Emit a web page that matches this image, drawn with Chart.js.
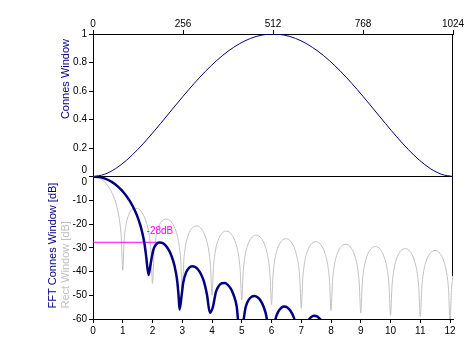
<!DOCTYPE html>
<html><head><meta charset="utf-8">
<script src="https://cdn.jsdelivr.net/npm/chart.js@4.4.1/dist/chart.umd.min.js"></script>
<style>html,body{margin:0;padding:0;background:#fff;}#wrap{width:471px;height:362px;}</style>
</head><body><div id="wrap"><canvas id="c" width="471" height="362"></canvas></div>
<script>
// ---- data ----
const sampleIndex = [0,32,64,96,128,160,192,224,256,288,320,352,384,416,448,480,512,544,576,608,640,672,704,736,768,800,832,864,896,928,960,992,1024];
const connesWindow = [0,0.0147,0.0549,0.1155,0.1914,0.2781,0.3713,0.4673,0.5625,0.6538,0.7385,0.8142,0.8789,0.9309,0.9690,0.9922,1,0.9922,0.9690,0.9309,0.8789,0.8142,0.7385,0.6538,0.5625,0.4673,0.3713,0.2781,0.1914,0.1155,0.0549,0.0147,0];

const rectFreq = [0,0.1,0.2,0.3,0.4,0.5,0.6,0.7,0.8,0.9,0.95,1,
1.05,1.1,1.2,1.35,1.5,1.65,1.8,1.9,1.95,2,
2.05,2.1,2.2,2.35,2.5,2.65,2.8,2.9,2.95,3,
3.05,3.1,3.2,3.35,3.5,3.65,3.8,3.9,3.95,4,
4.05,4.1,4.2,4.35,4.5,4.65,4.8,4.9,4.95,5,
5.05,5.1,5.2,5.35,5.5,5.65,5.8,5.9,5.95,6,
6.05,6.1,6.2,6.35,6.5,6.65,6.8,6.9,6.95,7,
7.05,7.1,7.2,7.35,7.5,7.65,7.8,7.9,7.95,8,
8.05,8.1,8.2,8.35,8.5,8.65,8.8,8.9,8.95,9,
9.05,9.1,9.2,9.35,9.5,9.65,9.8,9.9,9.95,10,
10.05,10.1,10.2,10.35,10.5,10.65,10.8,10.9,10.95,11,
11.05,11.1,11.2,11.35,11.5,11.65,11.8,11.9,11.95,12,
12.05,12.1];
const rectDb = [0,-0.14,-0.58,-1.33,-2.42,-3.92,-5.94,-8.69,-12.62,-19.23,-25.6,-39.5,
-26.48,-20.97,-16.15,-13.55,-13.47,-15.29,-19.67,-25.72,-31.85,-45,
-32.29,-26.59,-21.41,-18.36,-17.90,-19.41,-23.51,-29.39,-35.45,-48,
-35.74,-29.97,-24.67,-21.44,-20.82,-22.19,-26.16,-31.96,-37.98,-50,
-38.20,-32.40,-27.03,-23.71,-23.01,-24.29,-28.19,-33.95,-39.95,-52,
-40.12,-34.29,-28.88,-25.51,-24.75,-25.98,-29.83,-35.56,-41.54,-54,
-41.69,-35.85,-30.41,-27.00,-26.20,-27.40,-31.21,-36.92,-42.89,-55.5,
-43.02,-37.17,-31.71,-28.27,-27.44,-28.62,-32.41,-38.10,-44.06,-56.5,
-44.17,-38.31,-32.84,-29.38,-28.53,-29.68,-33.45,-39.13,-45.09,-57.5,
-45.19,-39.32,-33.84,-30.36,-29.50,-30.63,-34.39,-40.06,-46.01,-58.5,
-46.10,-40.23,-34.74,-31.24,-30.37,-31.49,-35.23,-40.89,-46.84,-59,
-46.92,-41.05,-35.55,-32.04,-31.16,-32.27,-36.00,-41.65,-47.60,-61,
-47.67,-41.80];

const connesFreq = [0,0.23,0.43,0.63,0.83,1.03,1.23,1.43,1.53,1.63,1.73,1.78,1.87,1.93,
2.03,2.13,2.23,2.33,2.43,2.53,2.63,2.73,2.83,2.88,2.91,2.98,
3.03,3.13,3.23,3.33,3.43,3.53,3.63,3.73,3.83,3.93,
4.03,4.13,4.23,4.33,4.43,4.53,4.63,4.73,4.83,4.93,
5.03,5.13,5.23,5.33,5.43,5.53,5.63,5.73,5.83,5.93,
6.03,6.13,6.23,6.33,6.43,6.53,6.63,6.73,6.83,6.98,
7.13,7.23,7.33,7.43,7.53,7.63,7.73,7.9];
const connesDb = [0,-0.25,-0.99,-2.27,-4.14,-6.71,-10.17,-14.95,-18.13,-22.25,-28.23,-32.89,-41.5,-37.23,
-30.79,-28.49,-27.75,-27.95,-28.92,-30.62,-33.20,-37.11,-43.92,-50.77,-56,-49.95,
-44.88,-40.34,-38.43,-37.80,-38.09,-39.17,-41.13,-44.28,-49.68,-57.4,
-54.87,-48.67,-46.07,-44.98,-44.89,-45.63,-47.25,-50.00,-54.74,-66.15,
-62.62,-55.07,-52.00,-50.62,-50.29,-50.82,-52.22,-54.72,-59.06,-68.9,
-68.96,-60.26,-56.85,-55.26,-54.76,-55.14,-56.40,-58.73,-62.81,-75,
-64.61,-60.95,-59.20,-58.59,-58.86,-60.00,-61.5,-70];

const markerFreq = [0, 2.28];
const markerDb = [-27.7, -27.7];
const markerText = '-28dB';
const markerTextAt = [1.8, -23];

const indexTicks = [0,256,512,768,1024];
const indexTickLabels = ['0','256','512','768','1024'];
const windowTicks = [0,0.2,0.4,0.6,0.8,1];
const windowTickLabels = [['0',''],'0.2','0.4','0.6','0.8','1'];
const binTicks = [0,1,2,3,4,5,6,7,8,9,10,11,12];
const binTickLabels = ['0','1','2','3','4','5','6','7','8','9','10','11','12'];
const dbTicks = [0,-10,-20,-30,-40,-50,-60];
const dbTickLabels = [['','0'],'-10','-20','-30','-40','-50','-60'];

const topTitle = 'Connes Window';
const fftTitle = 'FFT Connes Window [dB]';
const rectTitle = 'Rect Window [dB]';

// ---- chart ----
const NAVY = '#000080', GRAY = '#c0c0c0', MAGENTA = '#ff00ff';
const FONT = '"Liberation Sans", Arial, sans-serif';
const pts = (xs, ys) => xs.map((x, i) => ({x: x, y: ys[i]}));
const tickFont = {family: FONT, size: 10};

function axisBase(vals, labels, pad, extra) {
  return Object.assign({
    type: 'linear',
    border: {display: true, color: '#000', width: 1},
    grid: {drawOnChartArea: false, color: '#000', tickColor: '#000', tickLength: 4, tickWidth: 1},
    ticks: {font: tickFont, color: '#000', padding: pad, autoSkip: false, maxRotation: 0,
      callback: (v, i) => labels[i]},
    afterBuildTicks: scale => { scale.ticks = vals.map(v => ({value: v})); }
  }, extra);
}

const decor = {
  id: 'decor',
  beforeDatasetsDraw(chart) {
    const ctx = chart.ctx, a = chart.chartArea, yDb = chart.scales.yDb;
    ctx.save();
    ctx.strokeStyle = '#000'; ctx.lineWidth = 1;
    ctx.beginPath();
    ctx.moveTo(a.right - 0.5, a.top);
    ctx.lineTo(a.right - 0.5, yDb.getPixelForValue(-42));
    ctx.stroke();
    ctx.restore();
  },
  afterDraw(chart) {
    const ctx = chart.ctx, xs = chart.scales.xBin, yDb = chart.scales.yDb, yWin = chart.scales.yWin;
    ctx.save();
    ctx.font = '11px ' + FONT;
    ctx.textBaseline = 'middle';
    ctx.save(); ctx.translate(65.5, yWin.top + 5); ctx.rotate(-Math.PI / 2);
    ctx.textAlign = 'right'; ctx.fillStyle = NAVY; ctx.fillText(topTitle, 0, 0); ctx.restore();
    ctx.save(); ctx.translate(52.5, yDb.bottom - 10.5); ctx.rotate(-Math.PI / 2);
    ctx.textAlign = 'left'; ctx.fillStyle = NAVY; ctx.fillText(fftTitle, 0, 0); ctx.restore();
    ctx.save(); ctx.translate(65.5, yDb.bottom - 10.5); ctx.rotate(-Math.PI / 2);
    ctx.textAlign = 'left'; ctx.fillStyle = GRAY; ctx.fillText(rectTitle, 0, 0); ctx.restore();
    ctx.font = '10px ' + FONT;
    ctx.textAlign = 'left'; ctx.fillStyle = MAGENTA;
    ctx.fillText(markerText, xs.getPixelForValue(markerTextAt[0]), yDb.getPixelForValue(markerTextAt[1]));
    ctx.restore();
  }
};

new Chart(document.getElementById('c'), {
  type: 'line',
  data: {
    datasets: [
      {data: pts(sampleIndex, connesWindow), xAxisID: 'xIdx', yAxisID: 'yWin', borderColor: NAVY, borderWidth: 1, pointRadius: 0, cubicInterpolationMode: 'monotone', order: 0},
      {data: pts(connesFreq, connesDb), xAxisID: 'xBin', yAxisID: 'yDb', borderColor: NAVY, borderWidth: 2.5, pointRadius: 0, cubicInterpolationMode: 'monotone', order: 1},
      {data: pts(markerFreq, markerDb), xAxisID: 'xBin', yAxisID: 'yDb', borderColor: MAGENTA, borderWidth: 1, pointRadius: 0, order: 2},
      {data: pts(rectFreq, rectDb), xAxisID: 'xBin', yAxisID: 'yDb', borderColor: GRAY, borderWidth: 1, pointRadius: 0, cubicInterpolationMode: 'monotone', order: 3}
    ]
  },
  options: {
    responsive: false,
    devicePixelRatio: 1,
    animation: false,
    events: [],
    layout: {padding: {left: 0, right: 18, top: 0, bottom: 0}},
    plugins: {legend: {display: false}, tooltip: {enabled: false}},
    scales: {
      xBin: axisBase(binTicks, binTickLabels, 2, {position: 'bottom', min: 0, max: 12.1, afterFit: s => { s.height = 43; }}),
      xIdx: axisBase(indexTicks, indexTickLabels, 0, {position: 'top', min: 0, max: 1024, afterFit: s => { s.height = 34; }}),
      yWin: axisBase(windowTicks, windowTickLabels, 2, {position: 'left', stack: 'panels', stackWeight: 1, weight: 1, min: 0, max: 1,
        afterFit: s => { s.width = 93; }}),
      yDb: axisBase(dbTicks, dbTickLabels, 2, {position: 'left', stack: 'panels', stackWeight: 1, weight: 0, min: -60, max: 0,
        afterFit: s => { s.width = 93; },
        grid: {drawOnChartArea: true, color: c => (c.tick && c.tick.value === 0 ? '#000' : 'rgba(0,0,0,0)'), tickColor: '#000', tickLength: 4, tickWidth: 1}})
    }
  },
  plugins: [decor]
});
</script>
</body></html>
